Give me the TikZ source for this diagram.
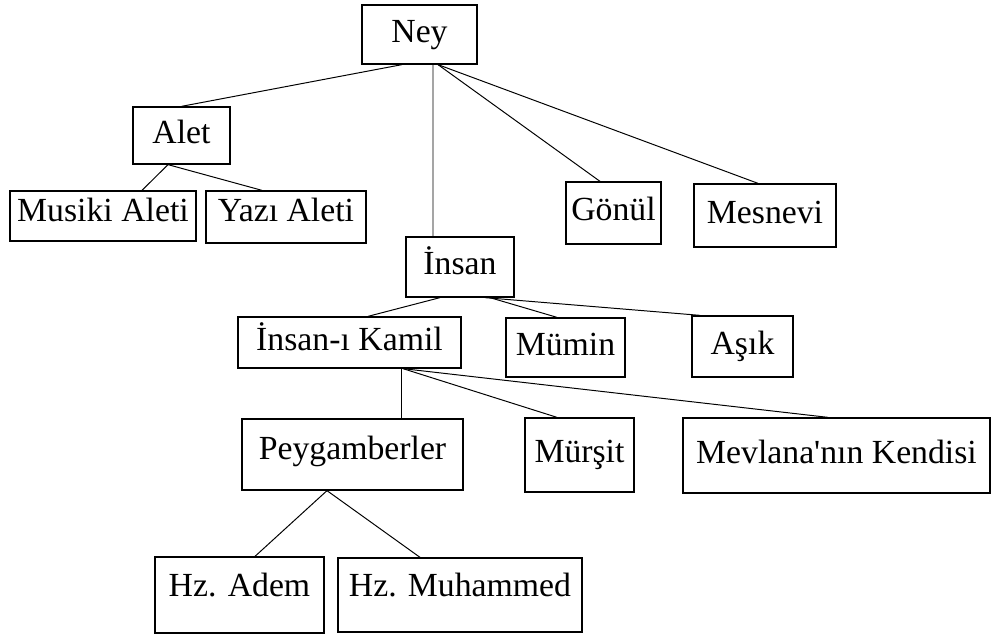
\documentclass[tikz,border=0pt]{standalone}
\usepackage{fontspec}
\setmainfont{Liberation Serif}
\usetikzlibrary{calc}

\begin{document}
\begin{tikzpicture}[x=0.025cm, y=-0.025cm,
  kutu/.style={draw, line width=0.9pt, rectangle, inner sep=0pt, text height=16.8pt, text depth=6pt, font=\fontsize{24}{28}\selectfont},
  bag/.style={line width=0.7pt}]
  \useasboundingbox (0,0) rectangle (993,635);

  % Kök
  \node[kutu, minimum width=2.875cm, minimum height=1.475cm] (ney) at (419.5,34.5) {Ney};

  % Birinci seviye
  \node[kutu, minimum width=2.425cm, minimum height=1.425cm] (alet) at (181.5,135.5) {Alet};
  \node[kutu, minimum width=2.375cm, minimum height=1.55cm] (gonul) at (613.5,213) {Gönül};
  \node[kutu, minimum width=3.55cm, minimum height=1.575cm] (mesnevi) at (765,215.5) {Mesnevi};
  \node[kutu, minimum width=2.7cm, minimum height=1.5cm] (insan) at (460,267) {İnsan};

  % Alet altı
  \node[kutu, minimum width=4.65cm, minimum height=1.25cm, text depth=9.6pt] (musiki) at (103,216) {Musiki Aleti};
  \node[kutu, minimum width=4.0cm, minimum height=1.3cm, text depth=10.8pt] (yazi) at (286,217) {Yazı Aleti};

  % İnsan altı
  \node[kutu, minimum width=5.575cm, minimum height=1.275cm] (kamil) at (349.5,342.5) {İnsan-ı Kamil};
  \node[kutu, minimum width=2.975cm, minimum height=1.475cm] (mumin) at (565.5,347.5) {Mümin};
  \node[kutu, minimum width=2.525cm, minimum height=1.525cm] (asik) at (742.5,346.5) {Aşık};

  % İnsan-ı Kamil altı
  \node[kutu, minimum width=5.525cm, minimum height=1.775cm, text depth=9.6pt] (peygamber) at (352.5,454.5) {Peygamberler};
  \node[kutu, minimum width=2.725cm, minimum height=1.85cm] (mursit) at (579.5,455) {Mürşit};
  \node[kutu, minimum width=7.675cm, minimum height=1.875cm] (mevlana) at (836.5,455.5) {Mevlana\textquotesingle nın Kendisi};

  % Peygamberler altı
  \node[kutu, minimum width=4.225cm, minimum height=1.9cm, text depth=15.1pt] (adem) at (239.5,595) {Hz. Adem};
  \node[kutu, minimum width=6.1cm, minimum height=1.85cm, text depth=15.1pt] (muhammed) at (460,595) {Hz. Muhammed};

  % Bağlantılar
  \draw[bag] ($(ney.south)+(-17.5,0)$) -- (alet.north);
  \draw[bag] ($(ney.south)+(13.5,0)$) -- ($(insan.north)+(-27,0)$);
  \draw[bag] ($(ney.south)+(18.5,0)$) -- ($(gonul.north)+(-13.5,0)$);
  \draw[bag] ($(ney.south)+(18.5,0)$) -- ($(mesnevi.north)+(-7,0)$);

  \draw[bag] ($(alet.south)+(-13.5,0)$) -- ($(musiki.north)+(39,0)$);
  \draw[bag] ($(alet.south)+(-13.5,0)$) -- ($(yazi.north)+(-24,0)$);

  \draw[bag] ($(insan.south)+(-20,0)$) -- ($(kamil.north)+(18.5,0)$);
  \draw[bag] ($(insan.south)+(30,0)$) -- ($(mumin.north)+(-8.5,0)$);
  \draw[bag] ($(insan.south)+(25,0)$) -- ($(asik.north)+(-42.5,0)$);

  \draw[bag] ($(kamil.south)+(51.5,0)$) -- ($(peygamber.north)+(48.5,0)$);
  \draw[bag] ($(kamil.south)+(53.5,0)$) -- ($(mursit.north)+(-22.5,0)$);
  \draw[bag] ($(kamil.south)+(53.5,0)$) -- ($(mevlana.north)+(-8.5,0)$);

  \draw[bag] ($(peygamber.south)+(-25.5,0)$) -- ($(adem.north)+(15.5,0)$);
  \draw[bag] ($(peygamber.south)+(-25.5,0)$) -- ($(muhammed.north)+(-40,0)$);
\end{tikzpicture}
\end{document}
